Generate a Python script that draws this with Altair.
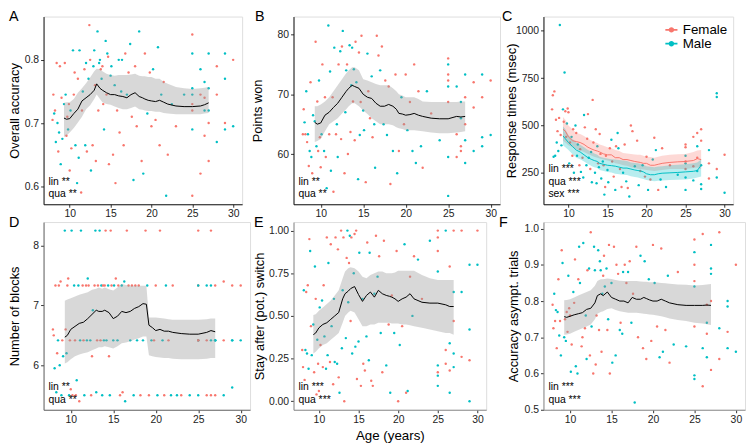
import altair as alt
import pandas as pd

# ---------------- data ----------------
AGE = [
    7.9, 8.0, 8.1, 8.2, 8.3, 8.4, 8.5, 8.6, 8.7, 8.8,
    8.9, 9.0, 9.1, 9.3, 9.4, 9.5, 9.6, 9.7, 9.8, 9.9,
    10.0, 10.1, 10.2, 10.4, 10.5, 10.6, 10.7, 10.9, 11.0, 11.1,
    11.2, 11.4, 11.5, 11.6, 11.8, 11.9, 12.0, 12.1, 12.3, 12.4,
    12.5, 12.6, 12.8, 12.9, 13.0, 13.1, 13.2, 13.4, 13.5, 13.6,
    13.7, 13.8, 13.9, 14.0, 14.1, 14.2, 14.4, 14.5, 14.6, 14.7,
    14.8, 15.0, 15.1, 15.3, 15.5, 15.6, 15.8, 16.0, 16.1, 16.3,
    16.4, 16.6, 16.8, 17.0, 17.2, 17.4, 17.6, 17.8, 18.0, 18.2,
    18.5, 18.8, 19.0, 19.2, 19.5, 19.8, 20.0, 20.2, 20.5, 20.8,
    21.0, 21.2, 21.5, 21.8, 22.0, 22.5, 23.0, 24.0, 25.0, 25.0,
    25.0, 25.0, 25.0, 25.0, 25.0, 25.0, 26.0, 26.0, 26.0, 26.5,
    26.5, 26.5, 26.5, 27.0, 27.0, 27.0, 27.0, 27.0, 28.0, 28.0,
    28.0, 29.0, 29.0, 29.0, 29.0, 30.0, 30.0,
]
SEX_CODES = ("FFMFMFMFMF" "MFMMFMFFMF" "FMFMFFMMFM" "MFFMFMMFMF" "FMFMMFFMFM"
             "MFMFFMMFMF" "FMMFMFFMFM" "MFFMFMFMFF" "MFMFMFFMFM" "FMFMFMFMFM"
             "MFMFMFMFFM" "FMFMFMFMFM" "FMMFMFM")
SEX = ["Female" if c == "F" else "Male" for c in SEX_CODES]

ACC = [
    0.705, 0.745, 0.715, 0.72, 0.67, 0.795, 0.70, 0.655, 0.685, 0.79,
    0.635, 0.74, 0.675, 0.73, 0.795, 0.745, 0.68, 0.71, 0.69, 0.73,
    0.625, 0.72, 0.66, 0.815, 0.745, 0.78, 0.665, 0.605, 0.77, 0.645,
    0.815, 0.59, 0.72, 0.75, 0.785, 0.665, 0.795, 0.655, 0.77, 0.855,
    0.80, 0.625, 0.665, 0.79, 0.815, 0.76, 0.64, 0.845, 0.72, 0.795,
    0.80, 0.785, 0.77, 0.79, 0.73, 0.69, 0.83, 0.745, 0.81, 0.805,
    0.635, 0.775, 0.79, 0.65, 0.76, 0.605, 0.72, 0.80, 0.685, 0.75,
    0.80, 0.665, 0.81, 0.745, 0.78, 0.825, 0.71, 0.61, 0.79, 0.695,
    0.845, 0.64, 0.62, 0.81, 0.715, 0.78, 0.695, 0.785, 0.705, 0.82,
    0.665, 0.745, 0.765, 0.585, 0.65, 0.73, 0.695, 0.745, 0.84, 0.81,
    0.755, 0.73, 0.745, 0.72, 0.69, 0.585, 0.785, 0.62, 0.745, 0.765,
    0.68, 0.72, 0.74, 0.81, 0.70, 0.755, 0.64, 0.72, 0.79, 0.67,
    0.745, 0.81, 0.77, 0.70, 0.69, 0.80, 0.695,
]
POINTS = [
    63.3, 67.5, 65.3, 63.3, 70.5, 62.0, 63.3, 58.0, 60.5, 72.0,
    59.5, 56.8, 66.5, 65.5, 78.8, 61.3, 68.8, 60.5, 72.3, 62.8,
    57.8, 63.3, 75.0, 60.5, 69.5, 59.5, 54.3, 81.5, 63.3, 73.8,
    57.2, 69.5, 53.7, 77.8, 63.3, 65.0, 59.5, 75.0, 77.2, 62.5,
    78.0, 80.6, 56.8, 67.0, 74.0, 75.0, 60.0, 78.2, 63.7, 71.5,
    77.8, 68.8, 74.2, 62.3, 78.8, 72.0, 55.8, 77.0, 63.2, 68.7,
    79.8, 67.3, 64.0, 55.3, 76.8, 70.5, 66.0, 73.0, 62.8, 65.0,
    57.7, 79.8, 76.5, 74.0, 78.0, 65.0, 72.3, 63.2, 71.3, 55.0,
    60.5, 73.3, 56.8, 60.5, 69.5, 65.0, 73.3, 64.0, 68.7, 60.5,
    75.0, 58.5, 70.5, 61.3, 57.7, 70.5, 66.8, 62.3, 76.0, 75.0,
    71.3, 73.3, 59.5, 72.3, 53.0, 68.7, 71.3, 63.3, 59.5, 66.0,
    61.3, 68.7, 60.5, 73.3, 65.0, 58.5, 69.5, 62.3, 72.0, 60.5,
    67.8, 73.3, 61.3, 69.5, 62.8, 72.3, 63.2,
]
RT = [
    585, 660, 335, 680, 340, 530, 410, 470, 365, 540,
    1030, 450, 395, 585, 520, 780, 575, 440, 510, 590,
    570, 300, 410, 440, 340, 480, 250, 500, 460, 340,
    400, 290, 375, 255, 330, 225, 555, 490, 290, 430,
    560, 330, 270, 360, 200, 635, 410, 250, 480, 195,
    390, 300, 280, 455, 350, 220, 310, 290, 135, 175,
    340, 265, 200, 380, 425, 310, 230, 160, 390, 460,
    380, 270, 175, 250, 400, 205, 170, 125, 500, 470,
    285, 420, 185, 260, 290, 230, 335, 160, 215, 320,
    435, 370, 160, 215, 380, 175, 290, 240, 400, 340,
    300, 385, 225, 270, 160, 310, 210, 440, 285, 390,
    460, 260, 330, 190, 480, 165, 420, 290, 300, 370,
    220, 670, 650, 270, 225, 345, 145,
]
BLOCKS = [
    6.6, 6.5, 5.95, 7.333, 5.55, 6.2, 6.417, 7.333, 6.0, 7.4,
    5.5, 6.417, 6.15, 8.25, 6.6, 6.2, 7.333, 7.45, 5.5, 6.417,
    5.6, 8.25, 5.5, 7.333, 6.417, 5.5, 5.75, 7.333, 5.4, 6.417,
    8.25, 7.333, 6.417, 5.5, 7.333, 6.417, 7.45, 7.333, 6.417, 5.5,
    6.15, 6.92, 7.333, 8.25, 5.55, 6.417, 7.333, 8.25, 6.417, 7.333,
    5.5, 7.333, 6.417, 7.333, 8.25, 6.417, 7.333, 6.15, 5.5, 8.25,
    7.333, 6.417, 7.333, 7.45, 6.417, 7.333, 5.5, 7.333, 5.55, 7.4,
    5.4, 8.25, 7.333, 6.417, 7.333, 5.5, 7.333, 6.417, 7.333, 5.5,
    6.417, 8.25, 7.333, 5.5, 6.417, 6.417, 7.333, 5.5, 8.25, 6.417,
    5.5, 7.333, 6.417, 5.5, 7.333, 5.5, 5.5, 5.5, 8.25, 6.417,
    6.417, 7.333, 5.5, 6.417, 7.333, 6.417, 7.333, 5.5, 6.417, 7.333,
    5.5, 6.417, 8.25, 6.417, 7.333, 6.417, 5.5, 6.417, 7.4, 5.5,
    6.417, 5.63, 6.417, 7.333, 6.417, 7.333, 6.417,
]
STAY = [
    0.30, 0.20, 0.65, 0.125, 0.30, 0.64, 0.28, 0.68, 0.19, 0.95,
    0.88, 0.44, 0.27, 0.45, 0.17, 0.79, 0.60, 0.04, 0.36, 0.22,
    0.06, 0.55, 0.33, 0.59, 0.20, 0.68, 0.38, 0.19, 0.96, 0.27,
    0.81, 0.23, 0.92, 0.44, 0.10, 0.60, 0.23, 0.96, 0.22, 0.89,
    0.14, 0.05, 1.00, 0.31, 0.65, 0.96, 0.00, 0.37, 0.84, 1.00,
    0.58, 0.81, 0.97, 0.47, 0.96, 0.28, 0.75, 0.98, 0.32, 1.00,
    0.13, 0.35, 0.87, 0.09, 0.60, 0.22, 0.18, 0.38, 0.93, 0.24,
    0.87, 0.12, 0.09, 0.63, 0.97, 0.73, 0.85, 0.40, 0.17, 0.94,
    0.21, 0.45, 0.05, 0.62, 0.40, 0.88, 0.00, 0.33, 0.44, 0.92,
    0.05, 0.06, 0.73, 0.50, 0.85, 0.83, 0.60, 0.94, 0.88, 0.76,
    0.21, 0.17, 0.09, 0.96, 0.15, 1.00, 1.00, 0.30, 0.22, 0.34,
    0.79, 0.05, 0.18, 0.64, 0.47, 0.28, 1.00, 0.20, 0.26, 0.64,
    1.00, 0.42, 0.80, 0.24, 0.00, 1.00, 0.80,
]
ASYM = [
    0.79, 0.725, 0.82, 0.745, 0.775, 0.67, 0.77, 0.86, 0.705, 0.745,
    0.65, 0.94, 0.905, 0.70, 0.75, 0.69, 0.77, 0.715, 0.87, 0.78,
    0.76, 0.605, 0.68, 0.825, 0.795, 0.915, 0.62, 0.60, 0.86, 0.95,
    0.85, 0.675, 0.70, 0.96, 0.725, 0.76, 0.64, 0.885, 0.89, 0.65,
    0.99, 0.73, 0.60, 0.95, 0.885, 0.625, 0.76, 0.94, 0.72, 0.91,
    0.885, 0.66, 0.82, 0.87, 0.925, 0.84, 0.89, 0.72, 0.75, 0.955,
    0.60, 0.85, 0.63, 0.95, 0.65, 0.90, 0.875, 0.72, 0.74, 0.71,
    0.88, 0.90, 0.85, 0.88, 0.91, 0.74, 0.82, 0.52, 0.95, 0.70,
    0.925, 0.67, 0.91, 0.64, 0.86, 0.69, 0.955, 0.85, 0.73, 0.645,
    0.945, 0.66, 0.72, 0.87, 0.63, 0.68, 0.88, 0.675, 0.97, 0.595,
    0.935, 0.73, 0.84, 0.90, 0.585, 0.855, 0.67, 0.985, 0.565, 0.74,
    0.79, 0.645, 0.71, 0.955, 0.61, 0.89, 0.80, 0.875, 0.99, 0.725,
    0.64, 0.80, 0.785, 0.715, 0.67, 0.90, 0.66,
]

# running means and bands
CURVE_AGE = [9.3, 9.6, 10.0, 10.5, 11.0, 11.5, 12.0, 12.5, 13.0, 13.3,
             13.7, 14.0, 14.5, 15.0, 15.5, 16.0, 16.5, 17.0, 17.5, 18.0,
             18.5, 18.9, 19.2, 19.6, 20.0, 20.5, 21.0, 21.5, 22.0, 23.0,
             24.0, 25.0, 26.0, 26.5, 27.0]
ACC_M = [.708, .706, .707, .715, .722, .735, .740, .745, .752, .762, .755, .752, .748, .745, .745, .743, .742, .740, .745, .748,
         .742, .740, .738, .736, .735, .734, .736, .733, .730, .727, .726, .726, .727, .729, .732]
ACC_L = [.678, .680, .685, .692, .701, .710, .722, .728, .738, .745, .738, .733, .730, .729, .726, .724, .722, .722, .724, .726,
         .722, .721, .720, .719, .719, .718, .718, .716, .715, .714, .714, .714, .714, .715, .716]
ACC_H = [.732, .733, .733, .738, .748, .755, .763, .772, .782, .786, .785, .782, .778, .776, .775, .776, .776, .776, .777, .778,
         .775, .774, .774, .773, .773, .770, .770, .765, .762, .757, .755, .754, .755, .756, .757]
PTS_M = [65.3, 65.0, 65.2, 66.5, 67.0, 67.8, 68.5, 69.5, 70.5, 71.0, 71.5, 71.3, 71.0, 70.0, 69.5, 69.3, 68.5, 68.0, 68.0, 68.3,
         68.0, 67.5, 66.8, 66.7, 66.5, 66.6, 66.8, 66.5, 66.3, 66.0, 65.9, 65.9, 66.3, 66.2, 66.3]
PTS_L = [62.0, 62.2, 62.5, 63.8, 65.0, 65.5, 66.0, 66.8, 67.5, 68.0, 68.5, 68.5, 68.0, 67.3, 66.7, 66.0, 65.5, 65.0, 65.0, 65.0,
         64.8, 64.5, 64.3, 64.2, 64.0, 64.0, 64.0, 63.9, 63.8, 63.6, 63.5, 63.5, 63.6, 63.7, 63.8]
PTS_H = [68.0, 68.0, 68.3, 68.8, 69.5, 70.5, 71.5, 72.5, 73.5, 74.0, 74.5, 74.5, 74.0, 72.5, 72.3, 72.0, 71.7, 71.5, 71.5, 71.5,
         71.0, 70.5, 70.0, 69.8, 69.5, 69.5, 69.5, 69.2, 68.8, 68.7, 68.7, 68.7, 68.7, 68.8, 68.8]
RTF_M = [480, 470, 440, 420, 415, 410, 400, 385, 375, 370, 365, 360, 350, 345, 345, 330, 330, 320, 320, 315,
         310, 307, 305, 300, 300, 290, 290, 295, 300, 305, 308, 310, 315, 325, 320]
RTF_L = [420, 410, 395, 385, 375, 368, 360, 350, 340, 335, 330, 325, 320, 315, 310, 300, 297, 290, 288, 280,
         275, 272, 270, 268, 265, 262, 260, 262, 265, 270, 270, 270, 275, 278, 270]
RTF_H = [545, 530, 500, 480, 460, 455, 445, 430, 420, 413, 408, 400, 393, 385, 380, 370, 365, 355, 352, 350,
         347, 345, 345, 340, 335, 333, 330, 335, 340, 345, 348, 350, 360, 368, 370]
RTM_M = [445, 430, 410, 390, 370, 360, 345, 330, 320, 315, 310, 300, 295, 290, 288, 285, 280, 275, 275, 270,
         265, 262, 260, 255, 245, 240, 240, 245, 248, 250, 252, 255, 258, 262, 290]
RTM_L = [395, 385, 370, 350, 330, 322, 310, 297, 285, 280, 275, 265, 260, 255, 252, 245, 242, 240, 238, 232,
         228, 225, 222, 218, 212, 208, 205, 208, 210, 212, 214, 215, 220, 225, 230]
RTM_H = [495, 480, 450, 430, 410, 398, 385, 370, 360, 352, 345, 335, 330, 325, 322, 320, 318, 315, 312, 305,
         302, 300, 298, 292, 285, 282, 280, 283, 285, 290, 292, 295, 300, 305, 320]
BLK_M = [6.47, 6.5, 6.6, 6.65, 6.7, 6.72, 6.78, 6.85, 6.92, 6.9, 6.9, 6.92, 6.88, 6.78, 6.82, 6.9, 6.88, 6.9, 6.95, 6.98,
         7.03, 7.02, 6.67, 6.63, 6.58, 6.6, 6.57, 6.57, 6.55, 6.53, 6.52, 6.52, 6.55, 6.58, 6.56]
BLK_L = [6.03, 6.05, 6.1, 6.15, 6.18, 6.2, 6.22, 6.25, 6.28, 6.3, 6.3, 6.32, 6.3, 6.28, 6.32, 6.37, 6.38, 6.4, 6.43, 6.45,
         6.48, 6.48, 6.17, 6.15, 6.14, 6.13, 6.12, 6.12, 6.11, 6.1, 6.1, 6.1, 6.11, 6.12, 6.12]
BLK_H = [7.08, 7.1, 7.12, 7.15, 7.18, 7.2, 7.22, 7.26, 7.28, 7.3, 7.28, 7.3, 7.27, 7.25, 7.3, 7.36, 7.34, 7.33, 7.33, 7.33,
         7.33, 7.33, 6.8, 6.8, 6.8, 6.79, 6.78, 6.77, 6.76, 6.76, 6.76, 6.76, 6.77, 6.78, 6.78]
STAY_M = [.39, .40, .43, .45, .46, .48, .50, .52, .60, .63, .645, .66, .672, .625, .585, .62, .64, .61, .65, .63,
          .62, .615, .61, .60, .585, .60, .61, .63, .60, .58, .575, .575, .565, .555, .555]
STAY_L = [.28, .29, .31, .33, .34, .36, .38, .40, .46, .50, .52, .53, .52, .48, .44, .44, .45, .45, .46, .46,
          .46, .46, .455, .455, .455, .45, .45, .445, .44, .43, .42, .41, .40, .40, .39]
STAY_H = [.505, .51, .53, .55, .57, .59, .62, .65, .72, .76, .78, .785, .78, .76, .73, .72, .74, .75, .76, .76,
          .75, .75, .75, .755, .765, .765, .765, .765, .765, .74, .72, .71, .71, .71, .71]
ASY_M = [.757, .755, .758, .762, .765, .768, .777, .780, .795, .815, .82, .815, .825, .81, .805, .80, .80, .795, .81, .805,
         .805, .81, .807, .803, .80, .80, .805, .80, .795, .79, .788, .788, .788, .789, .788]
ASY_L = [.707, .708, .71, .715, .72, .725, .73, .735, .75, .765, .77, .772, .778, .78, .775, .772, .77, .768, .768, .768,
         .766, .765, .764, .763, .762, .76, .758, .755, .752, .748, .745, .74, .738, .736, .734]
ASY_H = [.802, .803, .805, .81, .815, .82, .825, .83, .842, .855, .86, .86, .862, .861, .858, .856, .855, .855, .855, .855,
         .854, .853, .853, .852, .852, .851, .85, .849, .848, .846, .845, .843, .844, .846, .847]

for arr in (ACC, POINTS, RT, BLOCKS, STAY, ASYM):
    assert len(arr) == len(AGE), len(arr)
assert len(SEX) == len(AGE), len(SEX)

SEXES = ["Female", "Male"]
COLORS = ["#F8766D", "#00BFC4"]
FONT = "Liberation Sans"
XDOM = [6.8, 31.1]
XTICKS = [10, 15, 20, 25, 30]
H = 190


def panel(letter, letter_x, values, band, ydom, yticks, yfmt, ytitle, title_x,
          width, notes, dom_color, xtitle=None, rt_bands=None):
    pts = pd.DataFrame({"age": AGE, "sex": SEX, "v": values})
    xaxis = alt.Axis(values=XTICKS, tickCount=len(XTICKS) + 2, title=xtitle, grid=False,
                     labelFont=FONT, labelFontSize=10.5, labelColor="#222",
                     labelPadding=1.5, tickSize=3, tickColor="#333",
                     labelOverlap=False,
                     domainColor=dom_color, titleFont=FONT, titleFontSize=13.5,
                     titleFontWeight="normal", titleColor="#000", titlePadding=4)
    yaxis = alt.Axis(values=yticks, tickCount=len(yticks) + 2, format=yfmt, title=ytitle,
                     grid=False, labelFont=FONT, labelFontSize=10.5, labelColor="#222",
                     labelPadding=2, tickSize=3, tickColor="#333",
                     labelOverlap=False,
                     domainColor=dom_color, titleFont=FONT, titleFontSize=13,
                     titleFontWeight="normal", titleColor="#000",
                     titleX=title_x, titleY=H / 2, titleAngle=270,
                     titleAlign="center", titleBaseline="middle")
    xs = alt.Scale(domain=XDOM, nice=False, zero=False)
    ys = alt.Scale(domain=ydom, nice=False, zero=False)
    cscale = alt.Scale(domain=SEXES, range=COLORS)

    leg = None
    if rt_bands is not None:
        leg = alt.Legend(title=None, orient="none", legendX=122, legendY=6,
                         symbolType="M-1,0L1,0M-0.3,0A0.3,0.3,0,1,0,0.3,0A0.3,0.3,0,1,0,-0.3,0",
                         symbolSize=150, symbolStrokeWidth=1.8,
                         symbolFillColor="transparent", labelFont=FONT,
                         labelFontSize=13.5, labelColor="#000", rowPadding=0,
                         labelOffset=4)

    points = alt.Chart(pts).mark_circle(size=6, opacity=1).encode(
        x=alt.X("age:Q", scale=xs, axis=xaxis),
        y=alt.Y("v:Q", scale=ys, axis=yaxis),
        color=alt.Color("sex:N", scale=cscale, legend=leg),
    )
    layers = [points]
    if rt_bands is None:
        cur = pd.DataFrame({"age": CURVE_AGE, "m": band[0], "lo": band[1], "hi": band[2]})
        rib = alt.Chart(cur).mark_area(color="#999999", opacity=0.38).encode(
            x="age:Q", y="lo:Q", y2="hi:Q")
        line = alt.Chart(cur).mark_line(color="#000", strokeWidth=1).encode(
            x="age:Q", y="m:Q")
        layers += [rib, line]
    else:
        rows = []
        for sx, (m, lo, hi) in rt_bands.items():
            for a, mm, ll, hh in zip(CURVE_AGE, m, lo, hi):
                rows.append({"age": a, "sex": sx, "m": mm, "lo": ll, "hi": hh})
        cur = pd.DataFrame(rows)
        rib = alt.Chart(cur).mark_area(opacity=0.28).encode(
            x="age:Q", y="lo:Q", y2="hi:Q",
            color=alt.Color("sex:N", scale=cscale, legend=leg))
        line = alt.Chart(cur).mark_line(strokeWidth=1).encode(
            x="age:Q", y="m:Q",
            color=alt.Color("sex:N", scale=cscale, legend=leg))
        layers += [rib, line]

    n = len(notes)
    for i, t in enumerate(notes):
        layers.append(
            alt.Chart(pd.DataFrame({"t": [t]})).mark_text(
                font=FONT, fontSize=10.5, align="left", baseline="middle",
                color="#000", fill="#000"
            ).encode(text="t:N", x=alt.value(5), y=alt.value(H - 10 - 13 * (n - 1 - i)))
        )
    layers.append(
        alt.Chart(pd.DataFrame({"t": [letter]})).mark_text(
            font=FONT, fontSize=14.5, align="left", baseline="alphabetic",
            color="#000", fill="#000"
        ).encode(text="t:N", x=alt.value(letter_x), y=alt.value(4.5))
    )
    return alt.layer(*layers).properties(width=width, height=H)


pA = panel("A", -35, ACC, (ACC_M, ACC_L, ACC_H), [0.5715, 0.8685], [0.6, 0.7, 0.8], ".1f",
           "Overall accuracy", -29, 201, ["lin **", "qua **"], "#111")
pB = panel("B", -39, POINTS, (PTS_M, PTS_L, PTS_H), [51.6, 83.0], [60, 70, 80], "d",
           "Points won", -36, 209, ["lin **", "qua **"], "#111")
pC = panel("C", -42, RT, None, [84, 1075], [250, 500, 750, 1000], "d",
           "Response times (msec)", -32, 192, ["lin ***", "qua ***", "sex ***"], "#111",
           rt_bands={"Female": (RTF_M, RTF_L, RTF_H), "Male": (RTM_M, RTM_L, RTM_H)})
pD = panel("D", -35, BLOCKS, (BLK_M, BLK_L, BLK_H), [5.2575, 8.3925], [6, 7, 8], "d",
           "Number of blocks", -29, 209, ["lin **", "qua **"], "#666")
pE = panel("E", -40, STAY, (STAY_M, STAY_L, STAY_H), [-0.05, 1.05], [0, 0.25, 0.5, 0.75, 1.0], ".2f",
           "Stay after (pot.) switch", -34, 195, ["lin ***", "qua ***"], "#8c8c8c",
           xtitle="Age (years)")
pF = panel("F", -45, ASYM, (ASY_M, ASY_L, ASY_H), [0.5, 1.018], [0.5, 0.6, 0.7, 0.8, 0.9, 1.0], ".1f",
           "Accuracy asympt. trials", -30, 204, ["lin ***", "qua ***"], "#8c8c8c")

chart = alt.concat(
    pA, pB, pC, pD, pE, pF, columns=3, bounds="flush",
    spacing={"row": 18, "column": 44},
).resolve_scale(color="independent").resolve_legend(color="independent").properties(
    padding={"left": 0, "top": -2, "right": 0, "bottom": 0}
).configure_view(stroke=None).configure(background="white")

chart.save("out.html", embed_options={"renderer": "svg", "actions": False})
